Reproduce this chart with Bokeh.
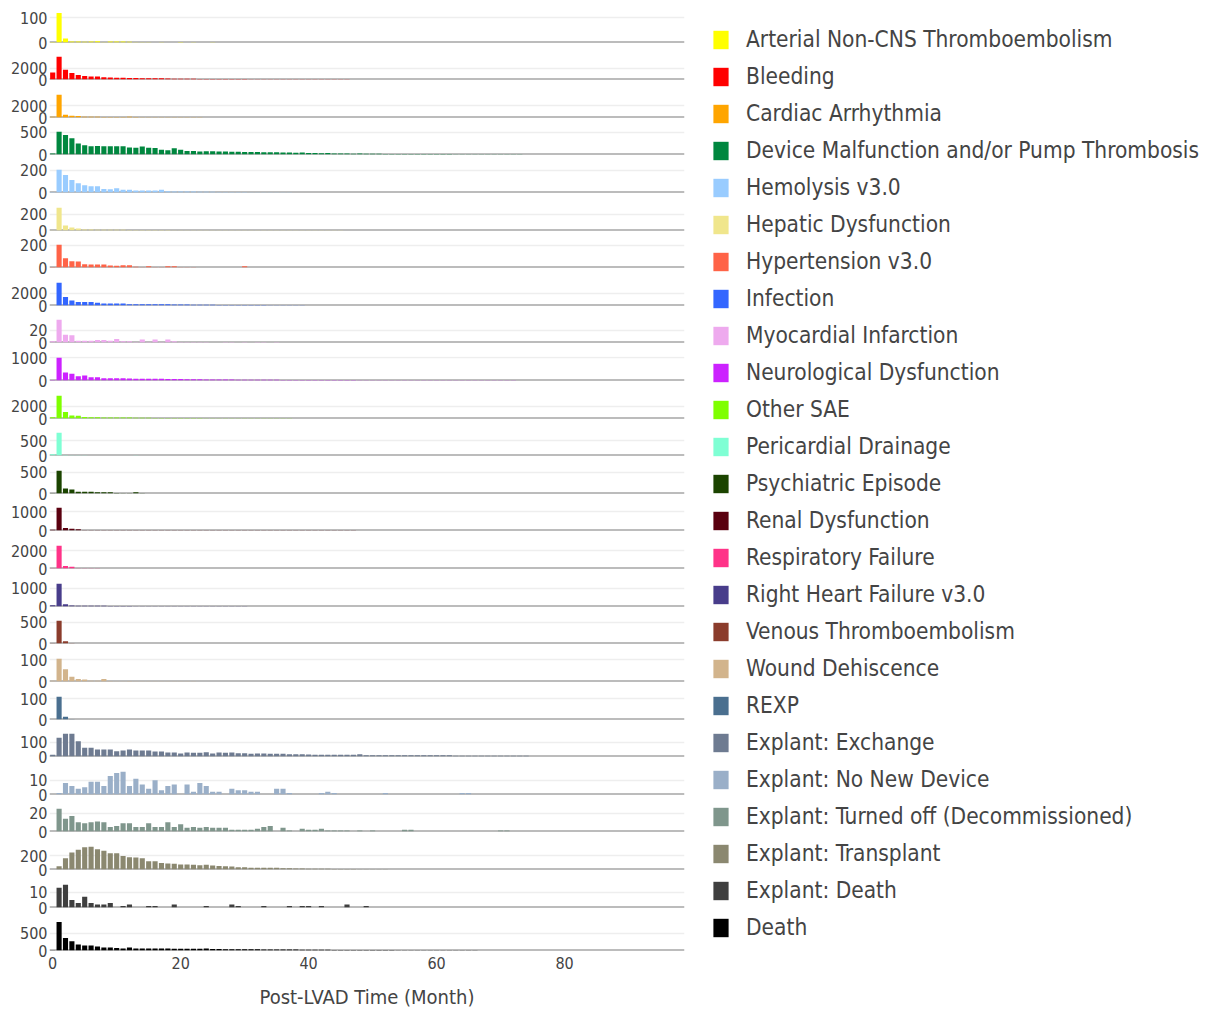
import subprocess
from bokeh.plotting import figure
from bokeh.models import (Range1d, LinearAxis, FixedTicker, Span, Legend, LegendItem,
                          ColumnDataSource, AllLabels, Grid)
from bokeh.layouts import column, row
from bokeh.embed import file_html
from bokeh.resources import INLINE

# ---------------- data ----------------
categories = [
    "Arterial Non-CNS Thromboembolism", "Bleeding", "Cardiac Arrhythmia",
    "Device Malfunction and/or Pump Thrombosis", "Hemolysis v3.0", "Hepatic Dysfunction",
    "Hypertension v3.0", "Infection", "Myocardial Infarction", "Neurological Dysfunction",
    "Other SAE", "Pericardial Drainage", "Psychiatric Episode", "Renal Dysfunction",
    "Respiratory Failure", "Right Heart Failure v3.0", "Venous Thromboembolism",
    "Wound Dehiscence", "REXP", "Explant: Exchange", "Explant: No New Device",
    "Explant: Turned off (Decommissioned)", "Explant: Transplant", "Explant: Death", "Death",
]

colors = [
    "#ffff00", "#ff0000", "#ffa500", "#00873f", "#99ccff", "#f0e68c", "#ff6347", "#3366ff",
    "#eeaaee", "#cc22ff", "#7fff00", "#7fffd4", "#1b4400", "#5a000f", "#ff3388", "#483d8b",
    "#8b3c2c", "#d2b48c", "#4a6f8f", "#6e7b91", "#9aafc8", "#7f968c", "#8b8870", "#3f3f3f",
    "#000000",
]

# upper y tick of each panel
y_ticks = [100, 2000, 2000, 500, 200, 200, 200, 2000, 20, 1000, 2000, 500, 500, 1000, 2000,
           1000, 500, 100, 100, 100, 10, 20, 200, 10, 500]

x_ticks = [0, 20, 40, 60, 80]

# monthly event counts, month 0, 1, 2, ...
arterial = [2, 119, 16, 4, 4, 3, 4, 5, 1, 4, 4, 4, 3, 1, 1, 1, 0, 1, 0, 0, 2, 0, 1, 0, 0, 1]
bleeding = [1210, 4020, 1720, 1140, 790, 620, 520, 520, 380, 330, 300, 290, 280, 260, 240, 220,
            210, 200, 180, 130, 120, 115, 110, 105, 100, 95, 90, 85, 80, 75, 70, 65, 60, 55, 50,
            50, 45, 45, 40, 40, 35, 35, 30, 30, 30, 25, 25, 20, 20, 20, 15, 15, 15, 10, 10, 10]
cardiac = [110, 3930, 470, 300, 250, 150, 120, 110, 100, 90, 90, 80, 120, 100, 60, 50, 50, 40,
           40, 35, 30, 30, 25, 25, 20, 20, 20, 15, 15, 15, 10, 10]
device = [20, 516, 438, 368, 251, 211, 188, 190, 186, 188, 185, 188, 157, 155, 180, 150, 148,
          110, 94, 141, 110, 78, 80, 70, 72, 75, 68, 70, 60, 62, 58, 55, 57, 52, 50, 48, 45, 46,
          40, 44, 35, 36, 30, 34, 25, 24, 20, 18, 20, 16, 15, 15, 14, 13, 14, 12, 12, 11, 10, 10,
          10, 9, 9, 8, 8, 7, 7, 6, 6, 5, 5, 4, 4, 3]
hemolysis = [5, 206, 158, 113, 83, 65, 56, 56, 32, 30, 38, 24, 24, 17, 17, 17, 17, 25, 12, 10,
             10, 8, 8, 6, 6, 6, 5, 5, 5, 4, 4, 3, 3, 3, 3, 2, 2, 2]
hepatic = [3, 279, 62, 37, 25, 12, 12, 10, 10, 8, 8, 8, 6, 6, 6, 6, 5, 5, 5, 4, 4, 4, 4, 3, 3,
           3, 3, 3, 3, 3, 3, 3, 3, 3, 3, 2, 2, 2, 2, 2, 2, 2, 2, 2, 2, 3]
hypertension = [5, 206, 83, 57, 55, 30, 27, 27, 27, 18, 15, 21, 21, 6, 3, 12, 3, 3, 12, 12, 3,
                2, 2, 1, 1, 1, 1, 1, 1, 1, 12]
infection = [0, 3720, 1380, 830, 550, 550, 550, 440, 330, 330, 330, 330, 220, 220, 220, 220, 220,
             220, 200, 180, 160, 150, 140, 130, 120, 110, 100, 100, 90, 90, 80, 80, 70, 70, 60,
             60, 50, 50, 40, 40]
myocardial = [2, 38, 13, 12, 3, 3, 3, 4, 4, 3, 6, 2, 2, 1, 5, 1, 5, 1, 5, 2, 1, 1, 1, 1, 1, 0,
              0, 1, 1, 0, 1, 0, 1, 1, 0, 1]
neurological = [20, 1000, 352, 295, 190, 220, 147, 147, 100, 100, 100, 100, 90, 80, 80, 80, 75,
                75, 70, 70, 65, 55, 50, 50, 45, 45, 40, 40, 40, 35, 35, 30, 30, 30, 28, 28, 26,
                25, 25, 24, 22, 22, 20, 20, 20, 18, 18, 17, 16, 16, 15, 15, 14, 14, 13, 13, 12,
                12, 12, 11, 11, 10, 10, 10, 9, 9, 8, 8, 8, 7, 7, 6, 6, 5, 5]
other_sae = [216, 3730, 1070, 490, 456, 260, 216, 216, 163, 163, 163, 160, 150, 140, 130, 120,
             100, 95, 90, 85, 80, 75, 70, 65, 60, 55, 50, 50, 45, 45, 40, 40, 35, 35, 30, 30, 25,
             25, 20, 20, 20, 15, 15, 15, 10, 10, 10]
pericardial = [45, 762, 17, 10, 8, 5, 3, 2, 1, 1, 1, 1, 1, 10]
psychiatric = [5, 532, 114, 91, 38, 38, 38, 30, 30, 30, 10, 5, 3, 30, 3, 2, 1, 1]
renal = [36, 1218, 127, 91, 73, 18, 18, 18, 18, 18, 18, 18, 18, 18, 15, 15, 15, 15, 15, 15, 15,
         12, 12, 12, 12, 12, 12, 12, 12, 10, 10, 10, 10, 10, 10, 10, 10, 10, 10, 10, 8, 8, 8,
         10, 8, 8, 8, 10]
respiratory = [20, 2545, 291, 182, 40, 30, 20, 15, 10, 10, 8, 8, 6, 5, 5, 5]
right_heart = [74, 1259, 130, 55, 37, 37, 37, 37, 37, 30, 30, 25, 25, 20, 20, 20, 15, 20, 15,
               15, 10, 20, 15, 20, 10, 8, 8, 8, 20, 8, 8]
venous = [5, 540, 56, 5, 2, 1]
wound = [3, 105, 56, 22, 11, 9, 3, 3, 11, 2, 1, 1, 2, 1, 1, 1, 1, 1, 1, 1, 1, 1, 1]
rexp = [0, 110, 13, 1]
explant_exchange = [12, 130, 158, 158, 105, 60, 60, 49, 49, 49, 37, 42, 49, 42, 42, 42, 35, 35,
                    28, 28, 21, 28, 26, 26, 30, 21, 28, 26, 28, 23, 23, 19, 21, 21, 19, 19, 19,
                    16, 16, 16, 14, 12, 12, 12, 12, 12, 12, 12, 16, 9, 9, 9, 9, 9, 9, 9, 9, 9, 9,
                    9, 9, 9, 9, 5, 5, 5, 5, 5, 5, 5, 5, 5, 5, 5, 5]
explant_no_new = [0, 1, 8, 6, 4, 5, 9, 9, 6, 13, 15, 16, 6, 11, 7, 4, 10, 3, 6, 7, 0, 7, 2, 8,
                  6, 2, 2, 0, 4, 3, 3, 2, 2, 0, 0, 4, 4, 1, 0, 0, 0, 0, 1, 2, 1, 0, 0, 0, 0, 0,
                  0, 0, 1, 0, 0, 0, 0, 0, 0, 0, 0, 0, 0, 0, 1, 1]
explant_turned_off = [0, 25, 14, 17, 10, 9, 10, 11, 10, 5, 6, 9, 9, 5, 5, 9, 5, 5, 10, 5, 8, 4,
                      5, 4, 5, 4, 4, 4, 2, 2, 2, 2, 3, 5, 6, 0, 4, 1, 0, 3, 2, 2, 3, 1, 1, 1, 1,
                      0, 1, 0, 1, 0, 0, 0, 0, 2, 2, 0, 0, 0, 0, 0, 0, 0, 0, 0, 0, 0, 0, 0, 1, 1]
explant_transplant = [0, 48, 162, 243, 286, 319, 329, 291, 271, 233, 233, 195, 176, 171, 162,
                      119, 119, 95, 86, 81, 71, 71, 67, 62, 67, 57, 52, 48, 43, 33, 33, 24, 24,
                      24, 24, 24, 19, 19, 14, 14, 12, 12, 10, 10, 8, 8, 6, 6, 5, 5, 4, 4, 3]
explant_death = [0, 13, 15, 5, 3, 7, 3, 2, 2, 3, 0, 1, 2, 0, 0, 1, 1, 0, 0, 2, 0, 0, 0, 0, 1,
                 0, 0, 0, 2, 1, 0, 0, 0, 1, 0, 0, 0, 1, 0, 1, 1, 0, 1, 0, 0, 0, 2, 0, 0, 1]
death = [10, 838, 367, 269, 173, 150, 145, 115, 90, 87, 75, 60, 87, 60, 58, 58, 56, 56, 55, 54,
         54, 50, 48, 48, 55, 45, 45, 40, 38, 36, 35, 34, 33, 32, 30, 30, 28, 28, 26, 25, 24, 22,
         20, 20, 18, 18, 17, 16, 15, 15, 14, 13, 12, 12, 10, 10, 9, 9, 8, 8, 7, 6, 6, 5, 5, 4,
         4, 3, 3, 3]

series = [arterial, bleeding, cardiac, device, hemolysis, hepatic, hypertension, infection,
          myocardial, neurological, other_sae, pericardial, psychiatric, renal, respiratory,
          right_heart, venous, wound, rexp, explant_exchange, explant_no_new,
          explant_turned_off, explant_transplant, explant_death, death]


# ---------------- fonts ----------------
def font_available(name):
    try:
        out = subprocess.run(["fc-list", ":", "family"], capture_output=True, text=True,
                             timeout=20).stdout
    except Exception:
        return False
    return any(name == f.strip() for line in out.splitlines() for f in line.split(","))


if font_available("DejaVu Sans Condensed"):
    FONT = "DejaVu Sans Condensed"
    TICK_SIZE, LEGEND_SIZE, TITLE_SIZE = "16px", "22.5px", "20px"
else:
    FONT = "DejaVu Sans"
    TICK_SIZE, LEGEND_SIZE, TITLE_SIZE = "14.5px", "20px", "18.5px"
TEXT_COLOR = "#444444"

# ---------------- layout geometry (page pixels) ----------------
FIRST_BASE = 41.7
PITCH = 37.6
PANEL_H = 24
FIRST_TOP = 11
LAST_BASE = 950
EXT = 10            # room above / below every frame for tick labels
LEFT_BORDER = 49
FRAME_W = 635
RIGHT_BORDER = 10

n = len(series)
bases = [int(round(FIRST_BASE + PITCH * i)) for i in range(n)]
tops = [b - PANEL_H for b in bases]
tops[0] = FIRST_TOP
bases[-1] = LAST_BASE

x_range = Range1d(-0.5, 98.75)

panels = []
prev_bottom = 0
for i, (vals, col, tick) in enumerate(zip(series, colors, y_ticks)):
    last = i == n - 1
    border_top = tops[i] if i == 0 else EXT
    canvas_top = tops[i] - border_top
    shift = canvas_top - prev_bottom          # negative -> overlaps the previous canvas
    p = figure(frame_width=FRAME_W, frame_height=bases[i] - tops[i], x_range=x_range,
               y_range=Range1d(0, max(vals) * 1.05), x_axis_type=None, y_axis_type=None,
               toolbar_location=None, output_backend="svg", title=None,
               min_border_left=LEFT_BORDER, min_border_right=RIGHT_BORDER,
               min_border_top=border_top, min_border_bottom=0 if last else EXT,
               margin=(shift, 0, 0, 0))
    p.outline_line_color = None
    p.background_fill_color = None
    p.border_fill_color = None

    p.add_layout(Grid(dimension=1, ticker=FixedTicker(ticks=[tick]),
                      grid_line_color="#eeeeee", grid_line_width=1.5))
    p.add_layout(Span(location=0, dimension="width", line_color="#7a7a7a", line_width=2,
                      level="underlay"))

    src = ColumnDataSource(data=dict(month=list(range(len(vals))), count=vals))
    p.vbar(x="month", top="count", bottom=0, width=0.8, source=src, fill_color=col,
           line_color=None)

    yaxis = LinearAxis(ticker=FixedTicker(ticks=[0, tick]), axis_line_color=None,
                       major_tick_line_color=None, minor_tick_line_color=None,
                       major_tick_out=0, major_tick_in=0, major_label_standoff=2,
                       major_label_text_font=FONT, major_label_text_font_size=TICK_SIZE,
                       major_label_text_color=TEXT_COLOR, major_label_policy=AllLabels())
    p.add_layout(yaxis, "left")

    if last:
        xaxis = LinearAxis(ticker=FixedTicker(ticks=x_ticks), axis_line_color=None,
                           major_tick_line_color=None, minor_tick_line_color=None,
                           major_tick_out=0, major_tick_in=0, major_label_standoff=6,
                           major_label_text_font=FONT, major_label_text_font_size=TICK_SIZE,
                           major_label_text_color=TEXT_COLOR,
                           axis_label="Post-LVAD Time (Month)", axis_label_standoff=13,
                           axis_label_text_font=FONT, axis_label_text_font_size=TITLE_SIZE,
                           axis_label_text_font_style="normal",
                           axis_label_text_color=TEXT_COLOR)
        p.add_layout(xaxis, "below")
    panels.append(p)
    prev_bottom = bases[i] + EXT

# ---------------- legend ----------------
leg = figure(width=512, height=960, x_range=Range1d(0, 1), y_range=Range1d(0, 1),
             x_axis_type=None, y_axis_type=None, toolbar_location=None,
             output_backend="svg", title=None, min_border_left=17, min_border_right=0,
             min_border_top=26, min_border_bottom=0)
leg.outline_line_color = None
leg.xgrid.visible = False
leg.ygrid.visible = False
items = []
for name, col in zip(categories, colors):
    r = leg.vbar(x=[0.5], top=[0], bottom=[0], width=0.5, fill_color=col, line_color=None)
    items.append(LegendItem(label=name, renderers=[r]))
legend = Legend(items=items, location="top_left", margin=0, padding=0,
                border_line_color=None, background_fill_alpha=0,
                glyph_width=19, glyph_height=23, label_height=23, label_standoff=16,
                spacing=11, label_text_font=FONT, label_text_font_size=LEGEND_SIZE,
                label_text_color=TEXT_COLOR)
leg.add_layout(legend, "center")

layout = row(column(*panels), leg)
open("out.html", "w").write(file_html(layout, INLINE))
